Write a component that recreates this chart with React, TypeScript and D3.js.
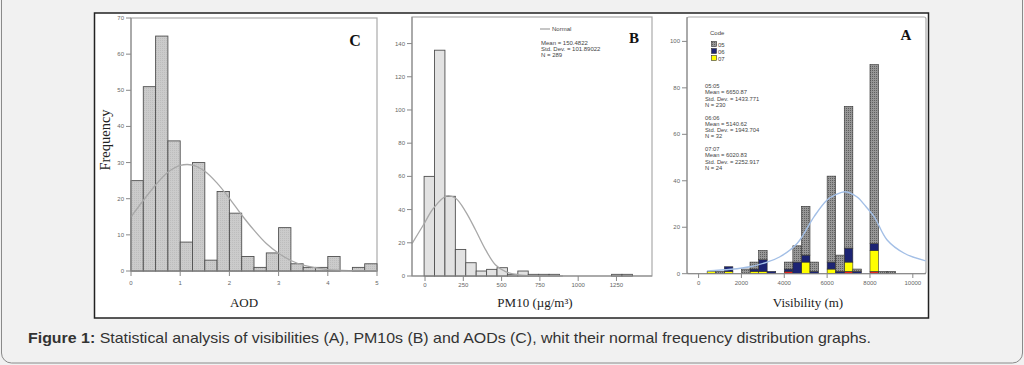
import React from "react";
import * as d3 from "d3";

const W = 1024;
const H = 365;

// ---------- Panel C : AOD ----------
const aodBinStart = 0;
const aodBinWidth = 0.25;
const aodCounts = [25, 51, 65, 36, 8, 30, 3, 22, 16, 4, 1, 5, 12, 2, 1, 1, 4, 0, 1, 2];
const aodCurveX = [0, 0.25, 0.5, 0.75, 1, 1.25, 1.5, 1.75, 2, 2.25, 2.5, 2.75, 3, 3.25, 3.5, 3.75, 4, 4.5, 5];
const aodCurveY = [15, 19.5, 23.8, 27.3, 29.2, 29.3, 27.6, 24.3, 20.1, 15.5, 11.3, 7.6, 4.9, 2.9, 1.6, 0.9, 0.4, 0.1, 0];
const aodXTicks = [0, 1, 2, 3, 4, 5];
const aodYTicks = [0, 10, 20, 30, 40, 50, 60, 70];

// ---------- Panel B : PM10 ----------
const pmBinStart = -6;
const pmBinWidth = 68;
const pmCounts = [60, 136, 48, 16, 8, 3, 4, 5, 1, 3, 1, 1, 1, 0, 0, 0, 0, 0, 1, 1];
const pmCurveX = [-85, -11, 55, 142, 200, 265, 330, 396, 461, 526, 613, 750, 900];
const pmCurveY = [19.5, 30.7, 40.8, 48.2, 46.8, 38.8, 27.7, 15.7, 6.6, 2.6, 0.6, 0.1, 0];
const pmXTicks = [0, 250, 500, 750, 1000, 1250];
const pmYTicks = [0, 20, 40, 60, 80, 100, 120, 140];
const pmStats = ["Mean = 150.4822", "Std. Dev. = 101.89022", "N = 289"];

// ---------- Panel A : Visibility ----------
const visBinStart = 400;
const visBinWidth = 400;
const visOther = [0, 0, 0, 0, 0, 0, 0, 0, 0, 1, 0, 0, 0, 0, 0, 0, 1, 0, 0, 1, 0, 0];
const vis07 = [1, 0, 1, 0, 0, 1, 1, 0, 0, 0, 0, 5, 0, 0, 2, 0, 4, 0, 0, 9, 0, 0];
const vis06 = [0, 0, 2, 0, 0, 1, 5, 1, 0, 1, 5, 3, 1, 0, 3, 1, 6, 1, 0, 3, 0, 0];
const vis05 = [0, 1, 0, 0, 2, 3, 4, 0, 0, 3, 7, 21, 4, 0, 37, 7, 61, 1, 0, 77, 1, 1];
const visCurveX = [400, 1500, 2400, 3200, 3800, 4600, 5400, 6000, 6400, 6850, 7400, 7800, 8200, 8800, 9600, 10600];
const visCurveY = [1.2, 1.9, 3, 5, 7.3, 13, 24.7, 31.7, 34, 35.3, 33, 29, 24.5, 14.5, 8.8, 5.5];
const visXTicks = [0, 2000, 4000, 6000, 8000, 10000];
const visYTicks = [0, 20, 40, 60, 80, 100];
const visLegendCodes = ["05", "06", "07"];
const visStats = [
  ["05:05", "Mean = 6650.87", "Std. Dev. = 1433.771", "N = 230"],
  ["06:06", "Mean = 5140.62", "Std. Dev. = 1943.704", "N = 32"],
  ["07:07", "Mean = 6020.83", "Std. Dev. = 2252.917", "N = 24"],
];

const caption = "Statistical analysis of visibilities (A), PM10s (B) and AODs (C), whit their normal frequency distribution graphs.";

const tickFont = { fontFamily: "Liberation Sans, Arial, sans-serif", fontSize: 6, fill: "#666" } as const;
const serif = "Liberation Serif, Times New Roman, serif";

export default function App() {
  const xC = d3.scaleLinear().domain([0, 5]).range([131, 377]);
  const yC = d3.scaleLinear().domain([0, 70]).range([271, 18]);
  const xB = d3.scaleLinear().domain([-85, 1482]).range([412, 652]);
  const yB = d3.scaleLinear().domain([0, 156]).range([276, 17]);
  const xA = d3.scaleLinear().domain([-541, 10615]).range([687, 926]);
  const yA = d3.scaleLinear().domain([0, 110.5]).range([273.7, 17]);

  const lineC = d3.line<number>().x((_, i) => xC(aodCurveX[i])).y((d) => yC(d)).curve(d3.curveCatmullRom);
  const lineB = d3.line<number>().x((_, i) => xB(pmCurveX[i])).y((d) => yB(d)).curve(d3.curveCatmullRom);
  const lineA = d3.line<number>().x((_, i) => xA(visCurveX[i])).y((d) => yA(d)).curve(d3.curveCatmullRom);

  const visRows = vis05.map((_, i) => ({ other: visOther[i], c07: vis07[i], c06: vis06[i], c05: vis05[i] }));
  const visKeys = ["other", "c07", "c06", "c05"];
  const visStack = d3.stack<any>().keys(visKeys)(visRows);
  const visFill: Record<string, string> = { other: "#e8231f", c07: "#ffff00", c06: "#1c2473", c05: "url(#dots)" };

  return (
    <svg width={W} height={H} style={{ position: "absolute", left: 0, top: 0 }}>
      <defs>
        <pattern id="dots" width="2" height="2" patternUnits="userSpaceOnUse">
          <rect width="2" height="2" fill="#979797" />
          <rect width="1" height="1" fill="#606060" />
        </pattern>
        <pattern id="cbar" width="2" height="2" patternUnits="userSpaceOnUse">
          <rect width="2" height="2" fill="#cbcbcb" />
          <rect width="1" height="1" fill="#bdbdbd" />
        </pattern>
      </defs>
      <rect x={0} y={0} width={W} height={H} fill="#f1f1f1" />
      <rect x={1.5} y={-12} width={1021} height={375} rx={10} fill="#f1f1f1" stroke="#8a8a8a" strokeWidth={1} />
      <rect x={94.5} y={13} width={834} height={305} fill="#fff" stroke="#222" strokeWidth={1.5} />

      {/* ================= Panel C ================= */}
      <rect x={131} y={18} width={246} height={253} fill="#fff" stroke="#aaa" strokeWidth={1.2} />
      {aodCounts.map((c, i) => {
        const x0 = aodBinStart + i * aodBinWidth;
        return c > 0 ? (
          <rect key={i} x={xC(x0)} y={yC(c)} width={xC(x0 + aodBinWidth) - xC(x0)} height={yC(0) - yC(c)}
            fill="url(#cbar)" stroke="#505050" strokeWidth={0.9} />
        ) : null;
      })}
      <path d={lineC(aodCurveY) || ""} fill="none" stroke="#a8a8a8" strokeWidth={1.3} />
      <line x1={131} x2={131} y1={18} y2={271} stroke="#888" />
      <line x1={131} x2={377} y1={271} y2={271} stroke="#888" />
      {aodYTicks.map((t) => (
        <g key={t}>
          <line x1={126} x2={131} y1={yC(t)} y2={yC(t)} stroke="#888" />
          <text x={124} y={yC(t) + 2} textAnchor="end" {...tickFont}>{t}</text>
        </g>
      ))}
      {aodXTicks.map((t) => (
        <g key={t}>
          <line x1={xC(t)} x2={xC(t)} y1={271} y2={276} stroke="#888" />
          <text x={xC(t)} y={285} textAnchor="middle" {...tickFont}>{t}</text>
        </g>
      ))}
      <text x={244} y={307} textAnchor="middle" fontFamily={serif} fontSize={13} fill="#222">AOD</text>
      <text transform="translate(110,140) rotate(-90)" textAnchor="middle" fontFamily={serif} fontSize={14.5} fill="#222">Frequency</text>
      <text x={355} y={46} textAnchor="middle" fontFamily={serif} fontSize={16} fontWeight="bold" fill="#111">C</text>

      {/* ================= Panel B ================= */}
      <rect x={412} y={17} width={240} height={259} fill="#fff" stroke="#aaa" strokeWidth={1.2} />
      {pmCounts.map((c, i) => {
        const x0 = pmBinStart + i * pmBinWidth;
        return c > 0 ? (
          <rect key={i} x={xB(x0)} y={yB(c)} width={xB(x0 + pmBinWidth) - xB(x0)} height={yB(0) - yB(c)}
            fill="#e2e2e2" stroke="#505050" strokeWidth={0.9} />
        ) : null;
      })}
      <path d={lineB(pmCurveY) || ""} fill="none" stroke="#a8a8a8" strokeWidth={1.3} />
      <line x1={412} x2={412} y1={17} y2={276} stroke="#888" />
      <line x1={412} x2={652} y1={276} y2={276} stroke="#888" />
      {pmYTicks.map((t) => (
        <g key={t}>
          <line x1={407} x2={412} y1={yB(t)} y2={yB(t)} stroke="#888" />
          <text x={405} y={yB(t) + 2} textAnchor="end" {...tickFont}>{t}</text>
        </g>
      ))}
      {pmXTicks.map((t) => (
        <g key={t}>
          <line x1={xB(t)} x2={xB(t)} y1={276} y2={281} stroke="#888" />
          <text x={xB(t)} y={287} textAnchor="middle" {...tickFont}>{t}</text>
        </g>
      ))}
      <line x1={540} x2={550} y1={29} y2={29} stroke="#a8a8a8" strokeWidth={1.3} />
      <text x={552} y={31} {...tickFont} fill="#444">Normal</text>
      {pmStats.map((s, i) => (
        <text key={s} x={541} y={45 + i * 6} {...tickFont} fill="#444">{s}</text>
      ))}
      <text x={535} y={307} textAnchor="middle" fontFamily={serif} fontSize={13} fill="#222">PM10 (µg/m³)</text>
      <text x={634} y={43} textAnchor="middle" fontFamily={serif} fontSize={15} fontWeight="bold" fill="#111">B</text>

      {/* ================= Panel A ================= */}
      <rect x={687} y={17} width={239} height={256.7} rx={2} fill="#fff" stroke="#aaa" strokeWidth={1.2} />
      {visStack.map((layer) => (
        <g key={layer.key}>
          {layer.map((d, i) => {
            if (d[1] - d[0] <= 0) return null;
            const x0 = visBinStart + i * visBinWidth;
            return (
              <rect key={i} x={xA(x0)} y={yA(d[1])} width={xA(x0 + visBinWidth) - xA(x0)} height={yA(d[0]) - yA(d[1])}
                fill={visFill[layer.key]} stroke="#333" strokeWidth={0.6} />
            );
          })}
        </g>
      ))}
      <path d={lineA(visCurveY) || ""} fill="none" stroke="#a3bfe6" strokeWidth={1.4} />
      <line x1={687} x2={687} y1={17} y2={273.7} stroke="#888" />
      <line x1={687} x2={926} y1={273.7} y2={273.7} stroke="#888" />
      {visYTicks.map((t) => (
        <g key={t}>
          <line x1={682} x2={687} y1={yA(t)} y2={yA(t)} stroke="#888" />
          <text x={680} y={yA(t) + 2} textAnchor="end" {...tickFont}>{t}</text>
        </g>
      ))}
      {visXTicks.map((t) => (
        <g key={t}>
          <line x1={xA(t)} x2={xA(t)} y1={273.7} y2={278} stroke="#888" />
          <text x={xA(t)} y={285} textAnchor="middle" {...tickFont}>{t}</text>
        </g>
      ))}
      <text x={710} y={35} {...tickFont} fill="#444">Code</text>
      {visLegendCodes.map((c, i) => (
        <g key={c}>
          <rect x={711.5} y={41.5 + i * 7} width={5} height={5}
            fill={i === 0 ? "url(#dots)" : i === 1 ? "#1c2473" : "#ffff00"} stroke="#333" strokeWidth={0.6} />
          <text x={718} y={46.5 + i * 7} {...tickFont} fill="#444">{c}</text>
        </g>
      ))}
      {visStats.map((block, b) => (
        <g key={b}>
          {block.map((s, j) => (
            <text key={j} x={705} y={88 + b * 31.5 + j * 6.3} {...tickFont} fontSize={5.8} fill="#444">{s}</text>
          ))}
        </g>
      ))}
      <text x={808} y={307} textAnchor="middle" fontFamily={serif} fontSize={13} fill="#222">Visibility (m)</text>
      <text x={906} y={40} textAnchor="middle" fontFamily={serif} fontSize={15} fontWeight="bold" fill="#111">A</text>

      {/* caption */}
      <text x={28} y={343} fontFamily="Liberation Sans, Arial, sans-serif" fontSize={15} fill="#333"
        textLength={843} lengthAdjust="spacingAndGlyphs">
        <tspan fontWeight="bold">Figure 1:</tspan>
        <tspan> {caption}</tspan>
      </text>
    </svg>
  );
}
